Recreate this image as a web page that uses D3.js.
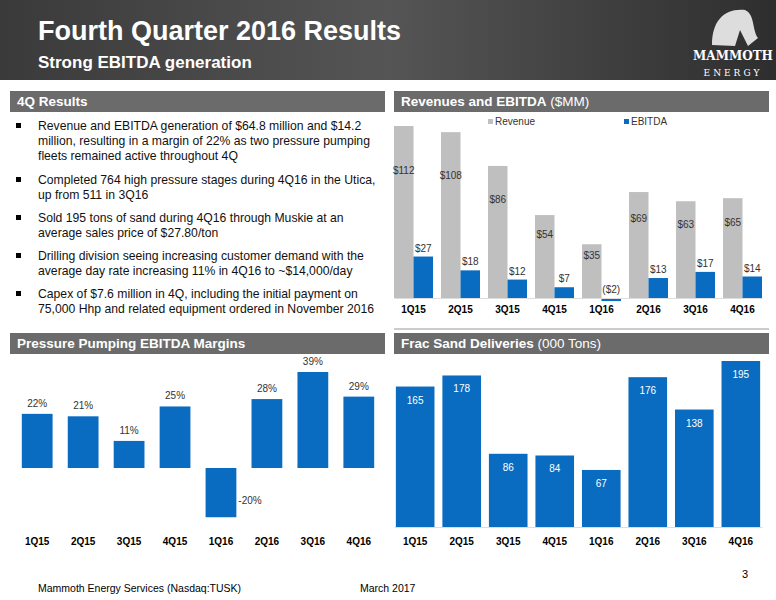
<!DOCTYPE html>
<html><head><meta charset="utf-8">
<script src="https://cdn.jsdelivr.net/npm/d3@7"></script>
<style>body{margin:0;background:#fff;font-family:"Liberation Sans",Arial,sans-serif}</style>
</head><body>
<svg id="c" width="776" height="600"></svg>
<script>
var quarters = ["1Q15","2Q15","3Q15","4Q15","1Q16","2Q16","3Q16","4Q16"];
var revenue = [112,108,86,54,35,69,63,65];
var ebitda = [27,18,12,7,-2,13,17,14];
var margins = [22,21,11,25,-20,28,39,29];
var sand = [165,178,86,84,67,176,138,195];
var bullets = [
  ["Revenue and EBITDA generation of $64.8 million and $14.2","million, resulting in a margin of 22% as two pressure pumping","fleets remained active throughout 4Q"],
  ["Completed 764 high pressure stages during 4Q16 in the Utica,","up from 511 in 3Q16"],
  ["Sold 195 tons of sand during 4Q16 through Muskie at an","average sales price of $27.80/ton"],
  ["Drilling division seeing increasing customer demand with the","average day rate increasing 11% in 4Q16 to ~$14,000/day"],
  ["Capex of $7.6 million in 4Q, including the initial payment on","75,000 Hhp and related equipment ordered in November 2016"]
];
var blue = "#0a6cc1", gray = "#bfbfbf";
var svg = d3.select("#c");
var money = function(v){ return v < 0 ? "($" + (-v) + ")" : "$" + v; };

// header
var g = svg.append("defs").append("linearGradient").attr("id","hg");
g.append("stop").attr("offset","0").attr("stop-color","#3a3a3a");
g.append("stop").attr("offset","0.5").attr("stop-color","#555");
g.append("stop").attr("offset","1").attr("stop-color","#2e2e2e");
svg.append("rect").attr("width",776).attr("height",80).attr("fill","url(#hg)");
svg.append("text").attr("x",38).attr("y",40).attr("fill","#fff").attr("font-size",27).attr("font-weight","bold").text("Fourth Quarter 2016 Results");
svg.append("text").attr("x",38).attr("y",68).attr("fill","#fff").attr("font-size",17).attr("font-weight","bold").text("Strong EBITDA generation");
svg.append("text").attr("x",733).attr("y",60).attr("text-anchor","middle").attr("fill","#fff").attr("font-family","DejaVu Serif").attr("font-size",12).attr("font-weight","bold").text("MAMMOTH");
svg.append("text").attr("x",733).attr("y",76).attr("text-anchor","middle").attr("fill","#fff").attr("font-family","DejaVu Serif").attr("font-size",9).attr("letter-spacing",3).text("ENERGY");
svg.append("path").attr("d","M712,45 C712,20 725,8 745,10 C755,14 752,30 758,38 L748,46 L740,30 L735,46 Z").attr("fill","#ddd");

// section headers
function header(x,y,bold,rest){
  svg.append("rect").attr("x",x).attr("y",y).attr("width",375).attr("height",21).attr("fill","#6b6b6b");
  var t = svg.append("text").attr("x",x+7).attr("y",y+15).attr("fill","#fff").attr("font-size",13.5);
  t.append("tspan").attr("font-weight","bold").text(bold);
  if (rest) t.append("tspan").text(rest);
}
header(10,91,"4Q Results");
header(394,91,"Revenues and EBITDA"," ($MM)");
header(10,333,"Pressure Pumping EBITDA Margins");
header(394,333,"Frac Sand Deliveries"," (000 Tons)");
svg.append("line").attr("x1",394).attr("x2",769).attr("y1",329).attr("y2",329).attr("stroke","#999");

// bullets
var by = [130,184,222,260,298];
bullets.forEach(function(b,i){
  svg.append("rect").attr("x",16).attr("y",by[i]-7).attr("width",5).attr("height",5).attr("fill","#000");
  b.forEach(function(line,j){
    svg.append("text").attr("x",38).attr("y",by[i]+j*15).attr("font-size",12.2).attr("fill","#111").text(line);
  });
});

// revenue & ebitda
var x1 = d3.scaleBand().domain(quarters).range([394,762]).paddingInner(0.17).paddingOuter(0);
var xs = d3.scaleBand().domain(["r","e"]).range([0,x1.bandwidth()]);
var y1 = d3.scaleLinear().domain([0,112]).range([298,126]);
var gr = svg.append("g");
gr.selectAll(".rv").data(revenue).enter().append("rect")
  .attr("x",function(d,i){return x1(quarters[i]);}).attr("width",xs.bandwidth())
  .attr("y",function(d){return y1(d);}).attr("height",function(d){return y1(0)-y1(d);}).attr("fill",gray);
gr.selectAll(".eb").data(ebitda).enter().append("rect")
  .attr("x",function(d,i){return x1(quarters[i])+xs("e");}).attr("width",xs.bandwidth())
  .attr("y",function(d){return y1(Math.max(d,0));}).attr("height",function(d){return Math.max(Math.abs(y1(0)-y1(d)),2);}).attr("fill",blue);
gr.selectAll(".rl").data(revenue).enter().append("text")
  .attr("x",function(d,i){return x1(quarters[i])+xs.bandwidth()/2;})
  .attr("y",function(d){return y1(d*0.72);}).attr("text-anchor","middle").attr("font-size",10).attr("fill","#333").text(money);
gr.selectAll(".el").data(ebitda).enter().append("text")
  .attr("x",function(d,i){return x1(quarters[i])+xs("e")+xs.bandwidth()/2;})
  .attr("y",function(d){return y1(Math.max(d,0))-5;}).attr("text-anchor","middle").attr("font-size",10).attr("fill","#333").text(money);
svg.append("g").attr("transform","translate(0,298)").call(d3.axisBottom(x1).tickSize(0).tickPadding(8))
  .call(function(a){a.select(".domain").attr("stroke","#ddd");a.selectAll("text").attr("font-size",10).attr("font-weight","bold").attr("font-family","Liberation Sans");});
[["Revenue",gray,488],["EBITDA",blue,624]].forEach(function(l){
  svg.append("rect").attr("x",l[2]).attr("y",119).attr("width",5).attr("height",5).attr("fill",l[1]);
  svg.append("text").attr("x",l[2]+7).attr("y",125).attr("font-size",10).attr("fill","#333").text(l[0]);
});

// margins
var x2 = d3.scaleBand().domain(quarters).range([14,382]).paddingInner(0.33).paddingOuter(0.17);
var y2 = d3.scaleLinear().domain([0,39]).range([468,372]);
svg.selectAll(".mg").data(margins).enter().append("rect")
  .attr("x",function(d,i){return x2(quarters[i]);}).attr("width",x2.bandwidth())
  .attr("y",function(d){return y2(Math.max(d,0));}).attr("height",function(d){return Math.abs(y2(0)-y2(d));}).attr("fill",blue);
svg.selectAll(".ml").data(margins).enter().append("text")
  .attr("x",function(d,i){return d<0 ? x2(quarters[i])+x2.bandwidth()+2 : x2(quarters[i])+x2.bandwidth()/2;})
  .attr("y",function(d){return d<0 ? y2(d)-13 : y2(d)-7;}).attr("text-anchor",function(d){return d<0?"start":"middle";}).attr("font-size",10).attr("fill","#333").text(function(d){return d+"%";});
svg.append("g").attr("transform","translate(0,532)").call(d3.axisBottom(x2).tickSize(0).tickPadding(6))
  .call(function(a){a.select(".domain").remove();a.selectAll("text").attr("font-size",10).attr("font-weight","bold").attr("font-family","Liberation Sans");});

// frac sand
var x3 = d3.scaleBand().domain(quarters).range([394,762]).paddingInner(0.17).paddingOuter(0.04);
var y3 = d3.scaleLinear().domain([0,195]).range([527,361]);
svg.selectAll(".sd").data(sand).enter().append("rect")
  .attr("x",function(d,i){return x3(quarters[i]);}).attr("width",x3.bandwidth())
  .attr("y",function(d){return y3(d);}).attr("height",function(d){return y3(0)-y3(d);}).attr("fill",blue);
svg.selectAll(".sl").data(sand).enter().append("text")
  .attr("x",function(d,i){return x3(quarters[i])+x3.bandwidth()/2;})
  .attr("y",function(d){return y3(d)+17;}).attr("text-anchor","middle").attr("font-size",10).attr("fill","#fff").text(function(d){return d;});
svg.append("g").attr("transform","translate(0,527)").call(d3.axisBottom(x3).tickSize(0).tickPadding(11))
  .call(function(a){a.select(".domain").attr("stroke","#ddd");a.selectAll("text").attr("font-size",10).attr("font-weight","bold").attr("font-family","Liberation Sans");});

// footer
svg.append("text").attr("x",748).attr("y",578).attr("text-anchor","end").attr("font-size",11).text("3");
svg.append("text").attr("x",38).attr("y",592).attr("font-size",10.5).text("Mammoth Energy Services (Nasdaq:TUSK)");
svg.append("text").attr("x",360).attr("y",592).attr("font-size",10.5).text("March 2017");
</script></body></html>
